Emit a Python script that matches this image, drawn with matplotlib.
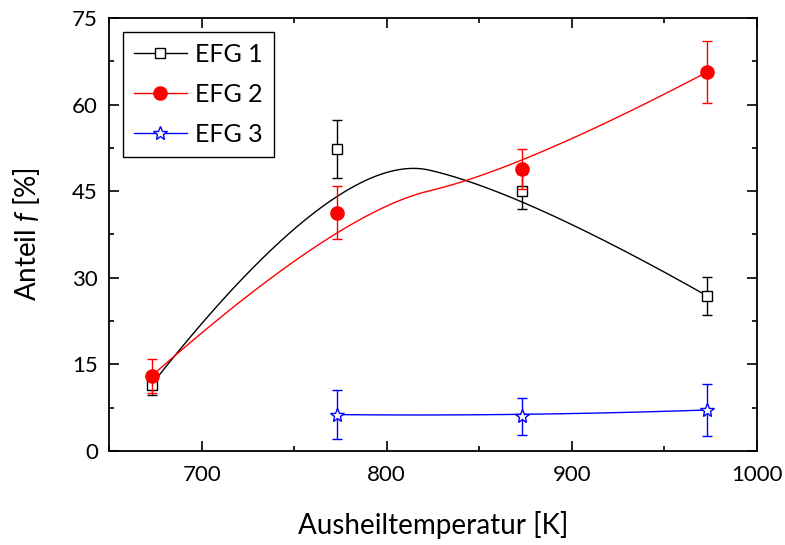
import numpy as np
import matplotlib
matplotlib.use('Agg')
import matplotlib.pyplot as plt
from matplotlib.ticker import MultipleLocator

plt.rcParams['font.family'] = ['Lato', 'DejaVu Sans']
plt.rcParams['mathtext.fontset'] = 'custom'
plt.rcParams['mathtext.it'] = 'Lato:italic'

# data (annealing temperature in K, fraction f in %)
temp = [673, 773, 873, 973]
efg1 = [11.5, 52.3, 45.0, 26.9]
efg1_err = [1.8, 5.0, 3.0, 3.3]
efg2 = [13.0, 41.3, 48.8, 65.6]
efg2_err = [3.0, 4.6, 3.5, 5.4]
temp3 = [773, 873, 973]
efg3 = [6.3, 6.0, 7.1]
efg3_err = [4.2, 3.2, 4.5]


def bspline(xs, ys, k=2, num=200):
    # clamped uniform B-spline with the data points as control points
    pts = np.column_stack([xs, ys]).astype(float)
    n = len(pts)
    k = min(k, n - 1)
    inner = np.arange(1, n - k)
    knots = np.concatenate([np.zeros(k + 1), inner, np.full(k + 1, n - k)])
    t = np.linspace(0, n - k, num)
    t[-1] -= 1e-9
    # Cox-de Boor
    N = np.zeros((num, len(knots) - 1))
    for i in range(len(knots) - 1):
        N[:, i] = (t >= knots[i]) & (t < knots[i + 1])
    for d in range(1, k + 1):
        Nn = np.zeros((num, len(knots) - 1 - d))
        for i in range(len(knots) - 1 - d):
            a = knots[i + d] - knots[i]
            b = knots[i + d + 1] - knots[i + 1]
            term = 0
            if a > 0:
                term = term + (t - knots[i]) / a * N[:, i]
            if b > 0:
                term = term + (knots[i + d + 1] - t) / b * N[:, i + 1]
            Nn[:, i] = term
        N = Nn
    curve = N @ pts
    return curve[:, 0], curve[:, 1]


fig = plt.figure(figsize=(7.85, 5.45), dpi=100)
ax = fig.add_axes([0.139, 0.1725, 0.825, 0.7945])

series = [
    (temp, efg1, efg1_err, 'black', 's', 'white', 7, 'EFG 1'),
    (temp, efg2, efg2_err, 'red', 'o', 'red', 9.5, 'EFG 2'),
    (temp3, efg3, efg3_err, 'blue', '*', 'white', 10, 'EFG 3'),
]

handles = []
for xs, ys, err, col, mk, fc, ms, lab in series:
    cx, cy = bspline(xs, ys)
    ax.plot(cx, cy, color=col, lw=1.0)
    ax.errorbar(xs, ys, yerr=err, fmt='none', ecolor=col, elinewidth=1.0,
                capsize=3.6, capthick=1.0)
    ax.plot(xs, ys, ls='none', marker=mk, ms=ms, mfc=fc, mec=col, mew=1.0)
    h, = ax.plot([], [], color=col, lw=1.0, marker=mk, ms=ms, mfc=fc, mec=col, mew=1.0, label=lab)
    handles.append(h)

ax.set_xlim(650, 1000)
ax.set_ylim(0, 75)
ax.xaxis.set_major_locator(MultipleLocator(100))
ax.xaxis.set_minor_locator(MultipleLocator(50))
ax.yaxis.set_major_locator(MultipleLocator(15))
ax.yaxis.set_minor_locator(MultipleLocator(7.5))
ax.tick_params(which='both', direction='in', top=True, right=True, width=1.2,
               labelsize=16)
ax.tick_params(axis='x', pad=10)
ax.tick_params(axis='y', pad=8)
ax.tick_params(which='major', length=7)
ax.tick_params(which='minor', length=3.5)
for s in ax.spines.values():
    s.set_linewidth(1.3)

ax.set_xlabel('Ausheiltemperatur [K]', fontsize=20, labelpad=19)
ax.set_ylabel('Anteil $f$ [%]', fontsize=20, labelpad=22)

leg = ax.legend(handles=handles, loc='upper left', fontsize=18, fancybox=False,
                edgecolor='black', framealpha=1, handlelength=2.1,
                borderaxespad=0.55, labelspacing=0.68, handletextpad=0.35,
                borderpad=0.45)
leg.get_frame().set_linewidth(1.0)

fig.savefig('out.png', dpi=100)
